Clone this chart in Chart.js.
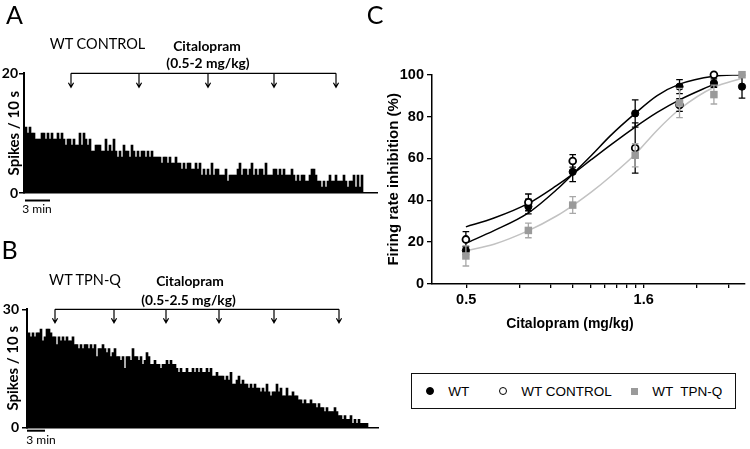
<!DOCTYPE html>
<html>
<head>
<meta charset="utf-8">
<title>Citalopram – firing rate inhibition</title>
<script src="https://cdn.jsdelivr.net/npm/chart.js@4.4.1/dist/chart.umd.min.js"></script>
<style>
  html, body { margin: 0; padding: 0; background: #fff; }
  body { position: relative; width: 750px; height: 449px; overflow: hidden; }
  canvas { position: absolute; }
  .txt { position: absolute; transform: translate(-50%, -50%); white-space: pre; line-height: 1; color: #000; font-family: Lato, "Open Sans", sans-serif; }
  .panel { font-size: 25px; }
  .group { font-size: 14.5px; }
  .drug { font-size: 13.8px; font-weight: bold; }
  .bar { font-size: 12px; }
  .axis { font-family: "Liberation Sans", Arial, sans-serif; font-weight: bold; font-size: 14px; }
  #legendC { position: absolute; left: 411px; top: 373px; width: 325px; height: 36px; box-sizing: border-box;
    border: 1.5px solid #111; display: flex; align-items: center; padding-left: 14px;
    font-family: "Liberation Sans", Arial, sans-serif; font-size: 13.5px; color: #000; }
  #legendC .item { display: flex; align-items: center; white-space: pre; }
  #legendC .mark { display: inline-block; box-sizing: border-box; margin-right: 14px; }
</style>
</head>
<body>
<canvas id="chartA" width="380" height="215" style="left:0;top:0"></canvas>
<canvas id="chartB" width="380" height="234" style="left:0;top:215px"></canvas>
<canvas id="chartC" width="370" height="334" style="left:380px;top:0"></canvas>

<div class="txt panel" style="left:14.5px;top:14px">A</div>
<div class="txt panel" style="left:9.5px;top:249px">B</div>
<div class="txt panel" style="left:375px;top:14px">C</div>

<div class="txt group" style="left:97.5px;top:44px">WT CONTROL</div>
<div class="txt drug" style="left:207px;top:45.5px">Citalopram</div>
<div class="txt drug" style="left:208px;top:63px">(0.5-2 mg/kg)</div>
<div class="txt bar" style="left:37px;top:209px">3 min</div>

<div class="txt group" style="left:85px;top:280px">WT TPN-Q</div>
<div class="txt drug" style="left:190px;top:281px">Citalopram</div>
<div class="txt drug" style="left:188.5px;top:300px">(0.5-2.5 mg/kg)</div>
<div class="txt bar" style="left:41px;top:440px">3 min</div>

<div class="txt axis" style="left:570px;top:323px">Citalopram (mg/kg)</div>

<div id="legendC"></div>

<script>
// spikes per 10 s bin, read left to right
const countsA = [
  11, 10, 11, 10, 10, 9, 9, 9, 10, 10, 9, 10, 9, 10, 9, 9, 10, 9, 10, 9,
  8, 9, 9, 8, 9, 8, 8, 10, 8, 10, 9, 8, 9, 7, 7, 8, 8, 8, 7, 7,
  9, 7, 8, 7, 9, 7, 6, 7, 6, 8, 7, 7, 6, 8, 7, 6, 7, 6, 7,
  7, 6, 7, 6, 7, 6, 6, 6, 6, 5, 6, 6, 5, 6, 5, 5, 6, 5, 5, 4,
  5, 4, 5, 5, 4, 4, 5, 4, 5, 3, 4, 3, 4, 3, 5, 3, 4, 4, 3, 3,
  3, 4, 2, 3, 3, 3, 3, 4, 5, 3, 4, 4, 3, 4, 5, 3, 4, 3, 4,
  4, 3, 5, 3, 3, 3, 4, 4, 3, 4, 3, 4, 3, 3, 3, 4, 3, 2, 3, 2,
  3, 3, 2, 2, 3, 4, 4, 3, 2, 2, 1, 2, 1, 2, 3, 2, 2, 3, 2, 2,
  2, 3, 2, 1, 2, 2, 3, 1, 3, 1, 3
];
const countsB = [
  24, 23, 24, 23, 24, 24, 25, 22, 23, 25, 25, 24, 23, 23, 21, 23, 22, 23, 22, 23,
  22, 22, 23, 21, 21, 20, 21, 20, 21, 21, 20, 21, 20, 21, 18, 20, 20, 21, 20, 19,
  20, 18, 19, 20, 18, 18, 17, 18, 15, 18, 18, 17, 20, 18, 18, 17, 18, 16,
  17, 19, 18, 16, 16, 17, 16, 16, 15, 16, 16, 17, 16, 17, 16, 16, 15, 14, 15, 14,
  14, 15, 14, 14, 15, 14, 15, 14, 15, 14, 14, 15, 14, 15, 13, 13, 14, 13, 13, 13,
  12, 13, 12, 14, 11, 11, 12, 13, 11, 12, 11, 11, 10, 11, 10, 11, 10, 10, 9,
  10, 9, 11, 9, 8, 9, 9, 11, 9, 10, 8, 8, 10, 8, 8, 9, 8, 8, 7, 7,
  6, 7, 6, 6, 7, 6, 6, 5, 6, 5, 5, 4, 5, 4, 4, 4, 5, 4, 3, 3,
  2, 3, 2, 2, 3, 1, 2, 1, 2, 1, 1, 1, 1
];
// bins at which citalopram was injected
const injectionsA = [22.5, 56.5, 91, 124, 155];
const injectionsB = [13, 42.5, 68.5, 95, 122.5, 155];

// dose-response (mean and SEM, % inhibition)
const doses = [0.5, 0.75, 1.0, 1.5, 2.0, 2.5, 3.0];
const wtMean = [16, 37, 53.6, 81.5, 94.3, 96, 94.3];
const wtSem = [2, 3.5, 4.7, 6.5, 3.3, 2, 5.5];
const controlMean = [21.3, 39, 58.8, 65, 85.5, 100];
const controlSem = [3.7, 4, 3, 12, 3, 0];
const tpnMean = [13.4, 25.6, 37.7, 61.5, 86.5, 90.5, 100];
const tpnSem = [4.8, 3.5, 4, 5.5, 7, 4.5, 0];

// fitted curves
const fitDoses = [0.5, 0.6, 0.75, 0.9, 1.0, 1.13, 1.28, 1.5, 1.73, 2.0, 2.5, 3.0];
const wtFit = [19.5, 25.5, 34, 45, 52.5, 61.5, 71, 81.5, 90, 95.5, 99.3, 100];
const controlFit = [27.3, 31.5, 38.5, 47, 52.5, 59.5, 66.5, 75, 82, 88, 95.5];
const tpnFit = [15.9, 19, 25.5, 32.5, 37.5, 44, 51.5, 62, 73.5, 83.5, 94, 98.3];

const xMajor = [0.501, 1.585];
const xMajorLabels = ['0.5', '1.6'];
const xMinor = [0.709, 0.868, 1.002, 1.121, 1.228, 1.326, 1.418, 1.504, 2.242, 2.746];

const legendGaps = [0, 29.5, 19.5];

Chart.defaults.color = '#000';
Chart.defaults.font.family = 'Lato';

const points = (xs, ys) => ys.map((y, i) => ({ x: xs[i], y }));

// bracket with arrows for each injection + the 3 min scale bar
const injectionPlugin = {
  id: 'injections',
  afterDraw(chart, args, opts) {
    const { ctx, chartArea, scales: { x } } = chart;
    const top = chartArea.top;
    const tip = top + opts.drop;
    const xs = opts.at.map(v => x.getPixelForValue(v));
    ctx.save();
    ctx.strokeStyle = '#000';
    ctx.lineWidth = 1.2;
    ctx.beginPath();
    ctx.moveTo(xs[0], top);
    ctx.lineTo(xs[xs.length - 1], top);
    xs.forEach(px => {
      ctx.moveTo(px, top);
      ctx.lineTo(px, tip);
      ctx.moveTo(px - 2.6, tip - 4.5);
      ctx.lineTo(px, tip);
      ctx.lineTo(px + 2.6, tip - 4.5);
    });
    ctx.stroke();
    ctx.fillStyle = '#000';
    ctx.fillRect(chartArea.left + opts.bar[0], chartArea.bottom + opts.barGap, opts.bar[1], 2);
    ctx.restore();
  }
};

function histogram(id, counts, yMax, frame) {
  return new Chart(document.getElementById(id), {
    type: 'bar',
    data: {
      datasets: [{
        data: counts.map((v, i) => ({ x: i, y: v })),
        backgroundColor: '#000',
        borderWidth: 0,
        barPercentage: 1,
        categoryPercentage: 1,
      }],
    },
    options: {
      responsive: false,
      animation: false,
      devicePixelRatio: 1,
      events: [],
      layout: { padding: frame.padding },
      plugins: {
        legend: { display: false },
        tooltip: { enabled: false },
        injections: frame.injections,
      },
      scales: {
        x: {
          type: 'linear',
          min: -1,
          max: frame.xMax,
          offset: false,
          grid: { display: false, offset: false },
          border: { color: '#000', width: 1.5 },
          ticks: { display: false },
          afterFit: s => { s.height = 0; },
        },
        y: {
          min: 0,
          max: yMax,
          ticks: {
            stepSize: yMax,
            color: '#000',
            padding: frame.tickPad,
            font: { family: 'Lato', weight: 'bold', size: 14 },
          },
          grid: { display: true, drawOnChartArea: false, tickLength: 5, color: '#000', lineWidth: 1.5 },
          border: { color: '#000', width: 2 },
          title: {
            display: true,
            text: 'Spikes / 10 s',
            color: '#000',
            font: { family: 'Lato', weight: 'bold', size: 15 },
            padding: { top: frame.titlePad, bottom: 0 },
          },
          afterFit: s => { s.width = frame.yWidth; },
        },
      },
    },
    plugins: [injectionPlugin],
  });
}

histogram('chartA', countsA, 20, {
  padding: { top: 73.3, left: 0, right: 3, bottom: 22 },
  xMax: 175.5,
  yWidth: 24,
  tickPad: 1,
  titlePad: 5,
  injections: { at: injectionsA, drop: 14, bar: [1, 25], barGap: 6.5 },
});

histogram('chartB', countsB, 30, {
  padding: { top: 94.3, left: 0, right: 2, bottom: 21.7 },
  xMax: 174.5,
  yWidth: 27,
  tickPad: 3,
  titlePad: 4.5,
  injections: { at: injectionsB, drop: 13.4, bar: [0, 18], barGap: 2.4 },
});

// error bars drawn under each marker set
const errorBars = {
  id: 'errorBars',
  beforeDatasetDraw(chart, { index, meta }) {
    const ds = chart.data.datasets[index];
    if (!ds.sem) return;
    const { ctx } = chart;
    const y = chart.scales.y;
    ctx.save();
    ctx.strokeStyle = ds.semColor;
    ctx.lineWidth = 1.3;
    ctx.beginPath();
    meta.data.forEach((pt, i) => {
      const e = ds.sem[i];
      if (!e) return;
      const v = ds.data[i].y;
      const hi = y.getPixelForValue(v + e);
      const lo = y.getPixelForValue(v - e);
      ctx.moveTo(pt.x, hi); ctx.lineTo(pt.x, lo);
      ctx.moveTo(pt.x - 3.3, hi); ctx.lineTo(pt.x + 3.3, hi);
      ctx.moveTo(pt.x - 3.3, lo); ctx.lineTo(pt.x + 3.3, lo);
    });
    ctx.stroke();
    ctx.restore();
  }
};

const fitLine = (data, color) => ({
  type: 'line',
  fit: true,
  data,
  borderColor: color,
  borderWidth: 1.5,
  pointRadius: 0,
  cubicInterpolationMode: 'monotone',
  fill: false,
  order: 10,
});

const cFont = { family: '"Liberation Sans", Arial, sans-serif', weight: 'bold' };

const chartC = new Chart(document.getElementById('chartC'), {
  type: 'scatter',
  data: {
    datasets: [
      { label: 'WT', data: points(doses, wtMean), sem: wtSem, semColor: '#000',
        pointStyle: 'circle', pointRadius: 3.6, backgroundColor: '#000', borderColor: '#000', borderWidth: 1, order: 3, clip: false },
      { label: 'WT CONTROL', data: points(doses, controlMean), sem: controlSem, semColor: '#000',
        pointStyle: 'circle', pointRadius: 3.4, backgroundColor: '#fff', borderColor: '#000', borderWidth: 1.8, order: 2, clip: false },
      { label: 'WT  TPN-Q', data: points(doses, tpnMean), sem: tpnSem, semColor: '#a8a8a8',
        pointStyle: 'rect', pointRadius: 5.3, backgroundColor: '#9a9a9a', borderColor: '#9a9a9a', borderWidth: 0, order: 1, clip: false },
      fitLine(points(fitDoses, wtFit), '#000'),
      fitLine(points(fitDoses, controlFit), '#000'),
      fitLine(points(fitDoses, tpnFit), '#c2c2c2'),
    ],
  },
  options: {
    responsive: false,
    animation: false,
    devicePixelRatio: 1,
    events: [],
    layout: { padding: { top: 74.7, left: 0, right: 3, bottom: 0 } },
    plugins: { legend: { display: false }, tooltip: { enabled: false } },
    scales: {
      x: {
        type: 'logarithmic',
        min: 0.4013,
        max: 3.043,
        afterBuildTicks: s => {
          s.ticks = [...xMajor, ...xMinor].sort((a, b) => a - b).map(value => ({ value }));
        },
        ticks: {
          autoSkip: false,
          maxRotation: 0,
          padding: 3,
          color: '#000',
          font: { ...cFont, size: 14.5 },
          callback: value => {
            const k = xMajor.indexOf(value);
            return k >= 0 ? xMajorLabels[k] : '';
          },
        },
        grid: { display: true, drawOnChartArea: false, tickLength: 4, color: '#000', lineWidth: 1.3 },
        border: { color: '#000', width: 1.5 },
        afterFit: s => { s.height = 50; },
      },
      y: {
        min: 0,
        max: 100,
        ticks: { stepSize: 20, padding: 3, color: '#000', font: { ...cFont, size: 14.5 } },
        grid: { display: true, drawOnChartArea: false, tickLength: 5, color: '#000', lineWidth: 1.3 },
        border: { color: '#000', width: 1.5 },
        title: {
          display: true,
          text: 'Firing rate inhibition (%)',
          color: '#000',
          font: { ...cFont, size: 15 },
          padding: { top: 4.7, bottom: 0 },
        },
        afterFit: s => { s.width = 52; },
      },
    },
  },
  plugins: [errorBars],
});

// legend built from the chart's marker datasets
function buildLegend(chart) {
  const box = document.getElementById('legendC');
  chart.data.datasets.filter(ds => !ds.fit).forEach((ds, i) => {
    const item = document.createElement('span');
    item.className = 'item';
    item.style.marginLeft = legendGaps[i] + 'px';
    const mark = document.createElement('span');
    mark.className = 'mark';
    if (ds.pointStyle === 'rect') {
      mark.style.width = mark.style.height = '7px';
      mark.style.background = ds.backgroundColor;
    } else {
      const d = ds.pointRadius * 2 + ds.borderWidth;
      mark.style.width = mark.style.height = d + 'px';
      mark.style.borderRadius = '50%';
      mark.style.background = ds.backgroundColor;
      mark.style.border = ds.borderWidth + 'px solid ' + ds.borderColor;
    }
    item.appendChild(mark);
    item.appendChild(document.createTextNode(ds.label));
    box.appendChild(item);
  });
}

buildLegend(chartC);
</script>
</body>
</html>
